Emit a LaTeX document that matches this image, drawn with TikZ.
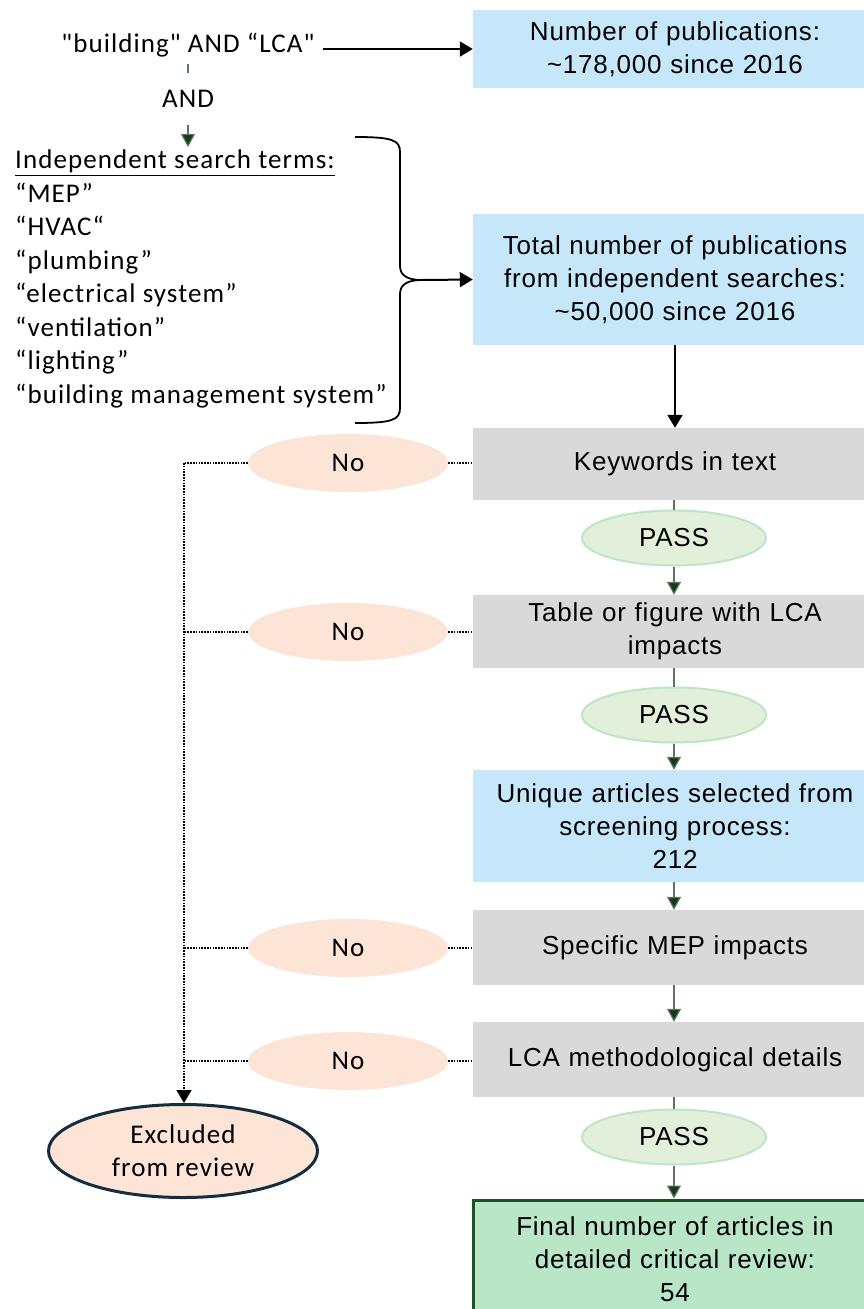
\documentclass[tikz,border=0pt]{standalone}
\usepackage{fontspec}
\newfontfamily\boxfont[LetterSpace=3]{Liberation Sans}
\newfontfamily\leftfont[LetterSpace=4]{Carlito}
\usetikzlibrary{shapes.geometric,arrows.meta}
\definecolor{boxblue}{RGB}{198,231,249}
\definecolor{boxgray}{RGB}{217,217,217}
\definecolor{nofill}{RGB}{252,228,214}
\definecolor{passfill}{RGB}{226,239,218}
\definecolor{passline}{RGB}{190,230,195}
\definecolor{finalfill}{RGB}{185,230,198}
\definecolor{finalline}{RGB}{25,85,35}
\definecolor{darkgreen}{RGB}{20,60,25}
\definecolor{thingreen}{RGB}{95,115,95}
\definecolor{navy}{RGB}{20,45,65}
\begin{document}
\begin{tikzpicture}[x=1pt,y=1pt,
  boxbase/.style={rectangle, minimum width=404, text width=396, align=center, inner sep=0,
    font=\boxfont\fontsize{26}{33}\selectfont},
  bluebox/.style={boxbase, fill=boxblue},
  graybox/.style={boxbase, fill=boxgray},
  finalbox/.style={boxbase, fill=finalfill, draw=finalline, line width=3pt},
  noell/.style={ellipse, fill=nofill, minimum width=200, minimum height=58, inner sep=0,
    font=\leftfont\fontsize{27}{32}\selectfont},
  passell/.style={ellipse, fill=passfill, draw=passline, line width=2pt, minimum width=184, minimum height=55, inner sep=0,
    font=\boxfont\fontsize{26}{32}\selectfont},
  exclell/.style={ellipse, fill=nofill, draw=navy, line width=3pt, minimum width=269, minimum height=93, inner sep=0,
    align=center, font=\leftfont\fontsize{27}{33}\selectfont},
  lefttext/.style={inner sep=0, text=black, font=\leftfont\fontsize{27}{33.5}\selectfont},
  blackarrow/.style={line width=2pt, -{Triangle[width=15,length=13]}},
  greenarrow/.style={thingreen, line width=1.2pt, -{Triangle[width=14,length=13,fill=darkgreen]}},
  thinline/.style={thingreen, line width=1.2pt},
  dotline/.style={line width=1.6pt, dash pattern=on 1.6pt off 1.2pt},
]
\useasboundingbox (0,0) rectangle (863,-1309);
\fill[white] (0,0) rectangle (863,-1309);

% right column boxes
\node[bluebox, minimum height=78] (pub1) at (675,-49) {Number of publications:\\ \textasciitilde178,000 since 2016};
\node[bluebox, minimum height=131] (pub2) at (675,-279.5) {Total number of publications\\ from independent searches:\\ \textasciitilde50,000 since 2016};
\node[graybox, minimum height=72] (kw) at (675,-464) {Keywords in text};
\node[passell] (pass1) at (674,-538) {PASS};
\node[graybox, minimum height=73] (tab) at (675,-631.5) {Table or figure with LCA\\ impacts};
\node[passell] (pass2) at (674,-715) {PASS};
\node[bluebox, minimum height=112] (uniq) at (675,-826) {Unique articles selected from\\ screening process:\\ 212};
\node[graybox, minimum height=75] (spec) at (675,-947.5) {Specific MEP impacts};
\node[graybox, minimum height=75] (meth) at (675,-1059.5) {LCA methodological details};
\node[passell] (pass3) at (674,-1137) {PASS};
\node[finalbox, minimum height=118] (final) at (675,-1259) {Final number of articles in\\ detailed critical review:\\ 54};

% No ellipses
\node[noell] (no1) at (348,-463) {No};
\node[noell] (no2) at (348,-632) {No};
\node[noell] (no3) at (348,-948) {No};
\node[noell] (no4) at (348,-1061) {No};
\node[exclell] (excl) at (183,-1151) {Excluded\\ from review};

% left text
\node[lefttext, anchor=center] (build) at (188,-45) {"building" AND “LCA"};
\node[lefttext, anchor=north west, align=left] (terms) at (15,-150) {\underline{Independent search terms:}\\
“MEP”\\ “HVAC“\\ “plumbing”\\ “electrical system”\\ “ventilation”\\ “lighting”\\ “building management system”};

% brace
\draw[line width=1.8pt] (355,-137) .. controls (392,-137) and (400,-140) .. (400,-152)
  -- (400,-266) .. controls (400,-277) and (410,-280) .. (422,-280) coordinate (tip)
  .. controls (410,-280) and (400,-283) .. (400,-294)
  -- (400,-408) .. controls (400,-420) and (392,-423) .. (355,-423);

% connectors
\draw[blackarrow] (build.east) ++(8,-4) coordinate (bstart) -- (bstart -| pub1.west);
\draw[blackarrow] (tip) -- (pub2.west);
\draw[greenarrow] (188,-64) -- (188,-147) node[lefttext, pos=0.42, fill=white, inner ysep=17, inner xsep=3] (and) {AND};
\draw[blackarrow] (pub2.south) -- (kw.north);
\draw[thinline] (kw.south -| pass1) -- (pass1.north);
\draw[greenarrow] (pass1.south) -- (pass1.south |- tab.north);
\draw[thinline] (tab.south -| pass2) -- (pass2.north);
\draw[greenarrow] (pass2.south) -- (pass2.south |- uniq.north);
\draw[greenarrow] (uniq.south -| pass2) -- (pass2 |- spec.north);
\draw[greenarrow] (spec.south -| pass2) -- (pass2 |- meth.north);
\draw[thinline] (meth.south -| pass3) -- (pass3.north);
\draw[greenarrow] (pass3.south) -- (pass3.south |- final.north);

% dotted exclusion lines
\draw[dotline] (no1.east) -- (kw.west |- no1.east);
\draw[dotline] (no2.east) -- (tab.west |- no2.east);
\draw[dotline] (no3.east) -- (spec.west |- no3.east);
\draw[dotline] (no4.east) -- (meth.west |- no4.east);
\coordinate (vtop) at (184,-463);
\draw[dotline] (no1.west) -- (vtop);
\draw[dotline] (no2.west) -- (no2.west -| vtop);
\draw[dotline] (no3.west) -- (no3.west -| vtop);
\draw[dotline] (no4.west) -- (no4.west -| vtop);
\draw[dotline, -{Triangle[width=15,length=13]}] (vtop) -- (vtop |- excl.north);
\end{tikzpicture}
\end{document}
